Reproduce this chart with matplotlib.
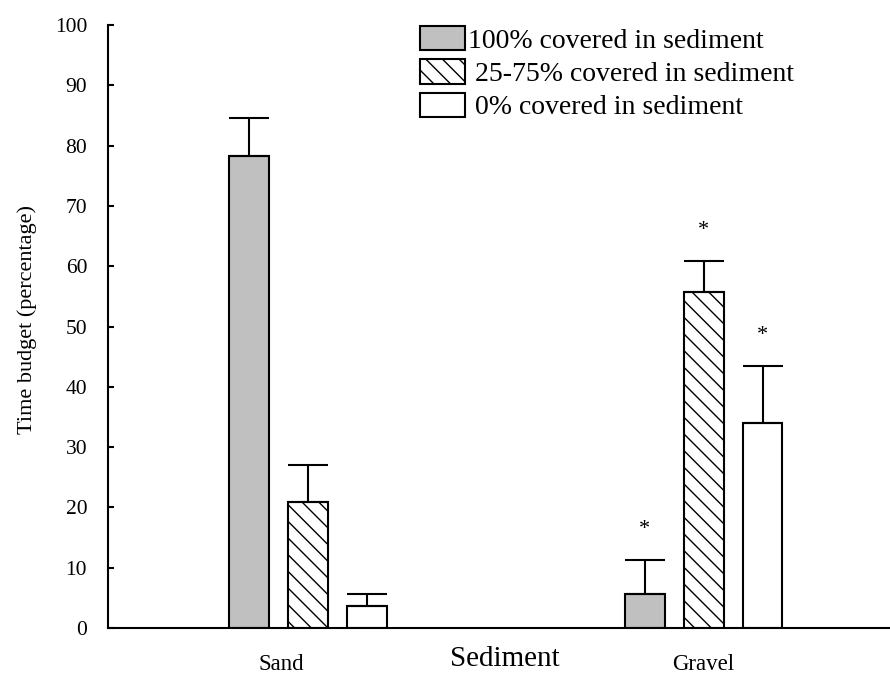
import numpy as np
import matplotlib.pyplot as plt
import matplotlib.transforms as mtransforms

plt.rcParams['font.family'] = ['Liberation Serif', 'DejaVu Serif']
plt.rcParams['hatch.linewidth'] = 1.0

# данные
sediments = ['Sand', 'Gravel']
series = ['100% covered in sediment', ' 25-75% covered in sediment', ' 0% covered in sediment']
means_full = [78.3, 5.6]
means_part = [20.9, 55.7]
means_none = [3.6, 34.0]
sem_full = [6.3, 5.7]
sem_part = [6.2, 5.2]
sem_none = [2.1, 9.5]
stars_full = ['', '*']
stars_part = ['', '*']
stars_none = ['', '*']

fig = plt.figure(figsize=(8.9, 6.79), dpi=100)
ax = fig.add_axes([108 / 890, 51 / 679, 782 / 890, 609 / 679])

x = np.arange(len(sediments))
width = 0.101
step = 0.149

groups = [
    (means_full, sem_full, stars_full, '#c0c0c0', ''),
    (means_part, sem_part, stars_part, 'white', '\\\\'),
    (means_none, sem_none, stars_none, 'white', ''),
]
for i, (m, s, st, color, hatch) in enumerate(groups):
    pos = x + (i - 1) * step
    ax.bar(pos, m, width, color=color, edgecolor='black', linewidth=1.5,
           hatch=hatch, label=series[i], zorder=2)
    ax.errorbar(pos, m, yerr=[np.zeros(len(s)), s], fmt='none', ecolor='black',
                elinewidth=1.5, capsize=14.4, capthick=1.5, zorder=3)
    for p, mm, ss, t in zip(pos, m, s, st):
        if t:
            ax.text(p, mm + ss + 5.0, t, ha='center', va='center', fontsize=16)

ax.set_xlim(-0.504, 1.471)
ax.set_ylim(0, 101)
ax.spines['top'].set_visible(False)
ax.spines['right'].set_visible(False)
ax.spines['left'].set_bounds(0, 100)
ax.spines['left'].set_linewidth(1.5)
ax.spines['bottom'].set_linewidth(1.5)

ax.set_yticks(np.arange(0, 101, 10))
ax.tick_params(axis='y', direction='in', length=4, width=1.5, pad=15, labelsize=15.5)
ax.set_xticks(x)
ax.set_xticklabels(sediments)
ax.tick_params(axis='x', length=0, pad=19, labelsize=16.5)
# подпись Sand в оригинале сдвинута влево
lbl = ax.get_xticklabels()[0]
lbl.set_transform(lbl.get_transform() + mtransforms.ScaledTranslation(-26 / 100, 0, fig.dpi_scale_trans))

ax.set_xlabel('Sediment', fontsize=21)
ax.xaxis.set_label_coords(0.508, -0.029)
ax.set_ylabel('Time budget (percentage)', fontsize=16)
ax.yaxis.set_label_coords(-0.091, 0.507)

ax.legend(loc='upper left', bbox_to_anchor=(420 / 890, 1 - 26 / 679),
          bbox_transform=fig.transFigure, frameon=False, fontsize=20,
          handlelength=1.62, handleheight=0.97, handletextpad=0.1,
          labelspacing=0.2, borderpad=0, borderaxespad=0)

fig.savefig('out.png', dpi=100)
